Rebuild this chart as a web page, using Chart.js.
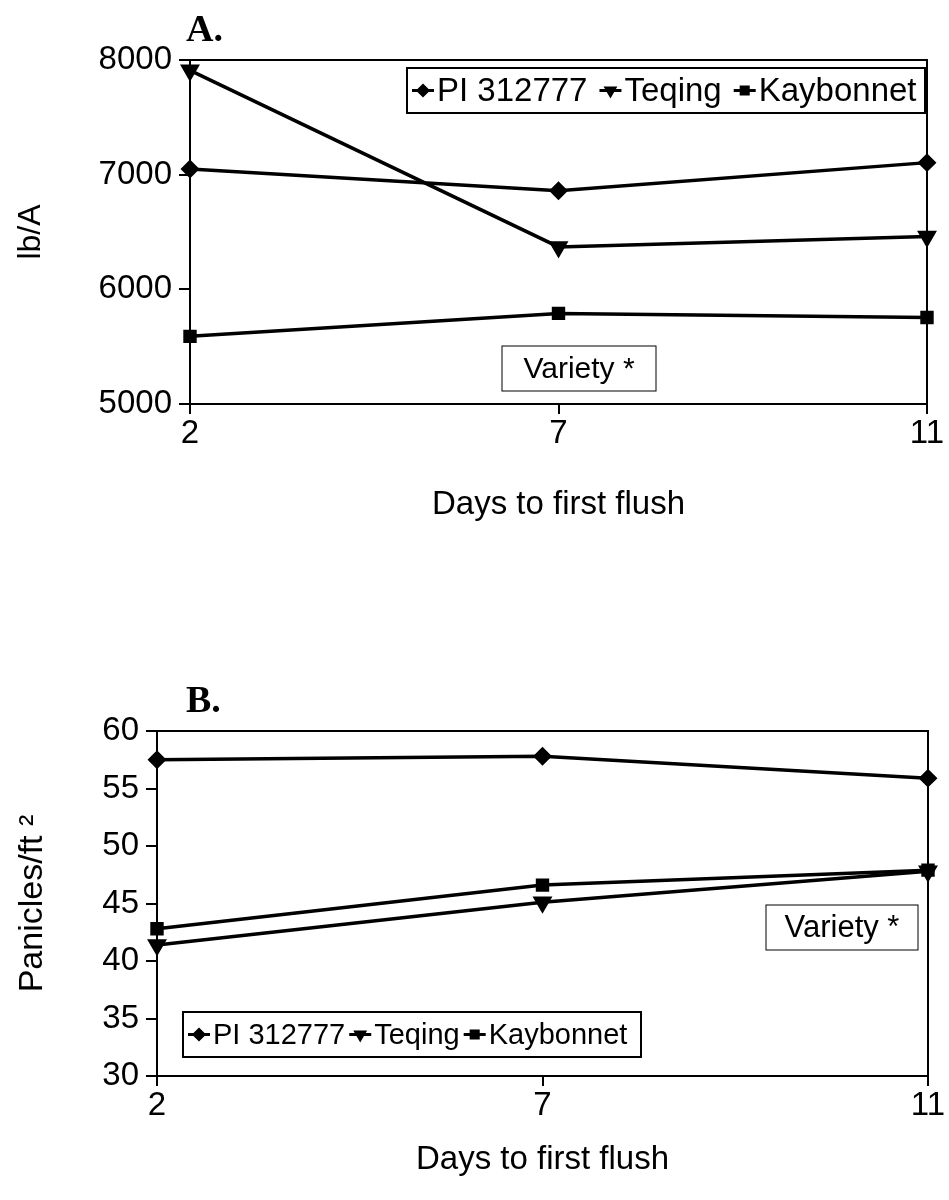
<!DOCTYPE html>
<html>
<head>
<meta charset="utf-8">
<script src="https://cdn.jsdelivr.net/npm/chart.js@4/dist/chart.umd.min.js"></script>
<style>
  body { margin: 0; background: #fff; width: 949px; height: 1200px; position: relative; overflow: hidden; }
  canvas { position: absolute; left: 0; }
  #graficaA { top: 0; }
  #graficaB { top: 560px; }
</style>
</head>
<body>
<canvas id="graficaA" width="949" height="540"></canvas>
<canvas id="graficaB" width="949" height="640"></canvas>
<script>
// Datos
const dias = ['2', '7', '11'];
const variedades = ['PI 312777', 'Teqing', 'Kaybonnet'];

// A. rendimiento (lb/A)
const rendPI = [7050, 6860, 7105];
const rendTeqing = [7910, 6370, 6460];
const rendKaybonnet = [5590, 5790, 5755];

// B. panículas (Panicles/ft 2)
const panPI = [57.5, 57.8, 55.9];
const panTeqing = [41.4, 45.1, 47.8];
const panKaybonnet = [42.8, 46.6, 47.9];

const FUENTE = '"Liberation Sans", Arial, sans-serif';

// marcos, letra del panel, caja "Variety *" y leyenda con recuadro
const extras = {
  id: 'extras',
  afterDraw(chart, args, o) {
    const { ctx, chartArea: a } = chart;
    ctx.save();
    ctx.strokeStyle = '#000';
    ctx.fillStyle = '#000';

    // lados superior y derecho del marco
    ctx.lineWidth = 2;
    ctx.beginPath();
    ctx.moveTo(a.left, a.top);
    ctx.lineTo(a.right, a.top);
    ctx.lineTo(a.right, a.bottom);
    ctx.stroke();

    // letra
    ctx.font = 'bold 38px "Liberation Serif", "Times New Roman", serif';
    ctx.textBaseline = 'alphabetic';
    ctx.textAlign = 'left';
    ctx.fillText(o.letra, o.letraX, o.letraY);

    // caja Variety *
    const v = o.variety;
    ctx.lineWidth = 1;
    ctx.strokeRect(v.x, v.y, v.w, v.h);
    ctx.font = v.size + 'px ' + FUENTE;
    ctx.textBaseline = 'middle';
    ctx.textAlign = 'center';
    ctx.fillText('Variety *', v.x + v.w / 2, v.y + v.h / 2 + 1);

    // leyenda
    const l = o.leyenda;
    ctx.lineWidth = 2;
    ctx.strokeRect(l.x, l.y, l.w, l.h);
    ctx.font = l.size + 'px ' + FUENTE;
    ctx.textAlign = 'left';
    const yc = l.y + l.h / 2;
    let x = l.x + 5;
    chart.data.datasets.forEach(ds => {
      ctx.lineWidth = 3;
      ctx.beginPath();
      ctx.moveTo(x, yc);
      ctx.lineTo(x + 22, yc);
      ctx.stroke();
      Chart.helpers.drawPoint(ctx, {
        pointStyle: ds.pointStyle, radius: 5, rotation: ds.pointRotation || 0, borderWidth: 1
      }, x + 11, yc);
      ctx.fillText(ds.label, x + 25, yc + 1);
      x += 25 + ctx.measureText(ds.label).width + l.gap;
    });
    ctx.restore();
  }
};

function series(valores) {
  const estilos = [
    { pointStyle: 'rectRot', pointRadius: 7, pointRotation: 0 },
    { pointStyle: 'triangle', pointRadius: 8, pointRotation: 180 },
    { pointStyle: 'rect', pointRadius: 7, pointRotation: 0 },
  ];
  return valores.map((data, i) => Object.assign({
    label: variedades[i],
    data,
    borderColor: '#000',
    backgroundColor: '#000',
    borderWidth: 3.5,
    tension: 0,
  }, estilos[i]));
}

function opciones(cfg) {
  return {
    responsive: false,
    animation: false,
    layout: { padding: { top: cfg.top, right: cfg.right, left: 0, bottom: 0 } },
    plugins: {
      legend: { display: false },
      tooltip: { enabled: false },
      extras: cfg.extras,
    },
    scales: {
      x: {
        type: 'category',
        offset: false,
        grid: { drawOnChartArea: false, drawTicks: true, tickLength: 10, color: '#000', lineWidth: 2 },
        border: { display: true, color: '#000', width: 2 },
        ticks: { color: '#000', padding: 0, font: { family: FUENTE, size: 33 } },
        title: {
          display: true, text: 'Days to first flush', color: '#000',
          font: { family: FUENTE, size: 33 }, padding: { top: 0, bottom: cfg.xTitlePad }
        },
        afterFit: s => { s.height = cfg.xAlto; },
      },
      y: {
        min: cfg.min, max: cfg.max,
        grid: { drawOnChartArea: false, drawTicks: true, tickLength: 11, color: '#000', lineWidth: 2 },
        border: { display: true, color: '#000', width: 2 },
        ticks: {
          stepSize: cfg.paso, color: '#000', padding: 7, font: { family: FUENTE, size: 33 },
          callback: v => String(v),
        },
        title: {
          display: true, text: cfg.yTitulo, color: '#000',
          font: { family: FUENTE, size: cfg.yTituloSize }, padding: { top: 12, bottom: 0 }
        },
        afterFit: s => { s.width = cfg.yAncho; },
      },
    },
  };
}

new Chart(document.getElementById('graficaA'), {
  type: 'line',
  data: { labels: dias, datasets: series([rendPI, rendTeqing, rendKaybonnet]) },
  options: opciones({
    top: 60, right: 22, xAlto: 136, yAncho: 190, xTitlePad: 15,
    min: 5000, max: 8000, paso: 1000, yTitulo: 'lb/A', yTituloSize: 32,
    extras: {
      letra: 'A.', letraX: 186, letraY: 41,
      variety: { x: 502, y: 346, w: 154, h: 45, size: 30 },
      leyenda: { x: 407, y: 68, w: 518, h: 45, size: 33, gap: 12 },
    },
  }),
  plugins: [extras],
});

new Chart(document.getElementById('graficaB'), {
  type: 'line',
  data: { labels: dias, datasets: series([panPI, panTeqing, panKaybonnet]) },
  options: opciones({
    top: 171, right: 21, xAlto: 124, yAncho: 157, xTitlePad: 20,
    min: 30, max: 60, paso: 5, yTitulo: 'Panicles/ft ²', yTituloSize: 34,
    extras: {
      letra: 'B.', letraX: 186, letraY: 152,
      variety: { x: 766, y: 345, w: 152, h: 45, size: 31 },
      leyenda: { x: 183, y: 452, w: 458, h: 45, size: 29, gap: 4 },
    },
  }),
  plugins: [extras],
});
</script>
</body>
</html>
